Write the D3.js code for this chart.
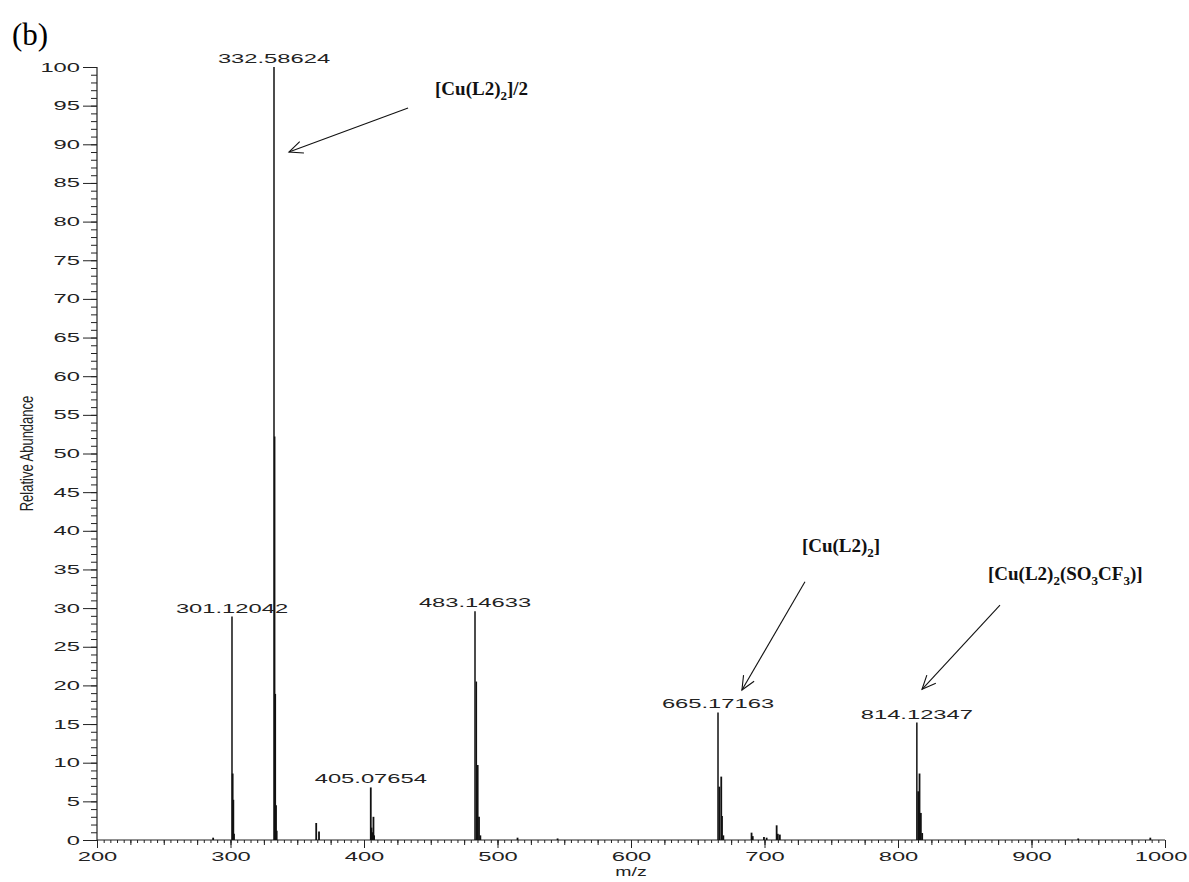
<!DOCTYPE html>
<html>
<head>
<meta charset="utf-8">
<script src="https://cdn.jsdelivr.net/npm/d3@7"></script>
<style>
  body { margin: 0; background: #fff; }
  svg { display: block; }
  .tick text { fill: #222; }
</style>
</head>
<body>
<div id="chart"></div>
<script>
const width = 1189;
const height = 882;

// stick spectrum: m/z and relative abundance
const peakMz = [
  287.0,
  301.12042, 301.62, 302.12, 302.62,
  332.58624, 333.09, 333.59, 334.09, 334.59,
  364.2, 366.3,
  405.07654, 405.58, 406.08, 407.08, 407.58,
  483.14633, 484.15, 485.15, 486.15, 487.15,
  515.0, 545.0,
  665.17163, 666.17, 667.6, 668.17, 669.17,
  690.3, 691.2, 699.6, 701.6, 709.1, 710.0, 711.5,
  814.12347, 815.12, 816.12, 817.12, 818.12,
  935.0, 989.0
];
const peakAbund = [
  0.3,
  28.9, 8.6, 5.2, 0.8,
  100, 52.2, 18.9, 4.5, 1.2,
  2.2, 1.1,
  6.8, 1.6, 1.0, 3.0, 0.6,
  29.6, 20.5, 9.7, 3.0, 0.6,
  0.3, 0.2,
  16.5, 6.9, 8.2, 3.1, 0.6,
  0.95, 0.5, 0.4, 0.3, 1.9, 0.8, 0.7,
  15.2, 6.3, 8.6, 3.5, 0.9,
  0.2, 0.3
];

// labelled peaks
const labelMz = [301.12042, 332.58624, 405.07654, 483.14633, 665.17163, 814.12347];
const labelText = ["301.12042", "332.58624", "405.07654", "483.14633", "665.17163", "814.12347"];

const xTicks = [200, 300, 400, 500, 600, 700, 800, 900, 1000];
const yTicks = d3.range(0, 101, 5);

// ion annotations (anchored in m/z, abundance units)
const annoText = [
  [["[Cu(L2)", false], ["2", true], ["]/2", false]],
  [["[Cu(L2)", false], ["2", true], ["]", false]],
  [["[Cu(L2)", false], ["2", true], ["(SO", false], ["3", true], ["CF", false], ["3", true], [")]", false]]
];
const annoTextPos = [[453.2, 96.4], [728.0, 37.3], [867.4, 33.6]];
const arrowFrom = [[433.0, 94.7], [730.3, 33.4], [876.4, 30.4]];
const arrowTo = [[343.8, 89.0], [683.1, 19.4], [818.0, 19.5]];

const margin = { left: 97, right: 24, top: 67, bottom: 42 };
const sx = 1.9; // the instrument fonts are stretched sideways

const svg = d3.select("#chart")
    .append("svg")
    .attr("width", width)
    .attr("height", height);

const x = d3.scaleLinear()
    .domain([200, 1000])
    .range([margin.left, width - margin.right]);

const y = d3.scaleLinear()
    .domain([0, 100])
    .range([height - margin.bottom, margin.top]);

const sans = "'Liberation Sans', Arial, Helvetica, sans-serif";
const serif = "'Liberation Serif', 'Times New Roman', serif";

// panel letter
svg.append("text")
    .attr("x", 12)
    .attr("y", 45)
    .attr("font-family", serif)
    .attr("font-size", 31)
    .text("(b)");

// ---- axes ----
const styleAxis = g => {
    g.select(".domain").remove();
    g.selectAll(".tick line").attr("stroke", "#222").attr("stroke-width", 1);
};

// y minor ticks every 1
svg.append("g")
    .attr("transform", `translate(${margin.left},0)`)
    .call(d3.axisLeft(y).tickValues(d3.range(0, 101, 1)).tickSize(6).tickFormat(""))
    .call(styleAxis);

// y major
const yAxis = svg.append("g")
    .attr("transform", `translate(${margin.left},0)`)
    .call(d3.axisLeft(y).tickValues(yTicks).tickSize(14).tickPadding(3))
    .call(styleAxis);
yAxis.selectAll(".tick text")
    .attr("font-family", sans)
    .attr("font-size", 12.5)
    .attr("x", -17 / sx)
    .attr("transform", `scale(${sx},1)`);

// x minor ticks
svg.append("g")
    .attr("transform", `translate(0,${y(0)})`)
    .call(d3.axisBottom(x).tickValues(d3.range(200, 1001, 5)).tickSize(3).tickFormat(""))
    .call(styleAxis);
svg.append("g")
    .attr("transform", `translate(0,${y(0)})`)
    .call(d3.axisBottom(x).tickValues(d3.range(200, 1001, 25)).tickSize(5).tickFormat(""))
    .call(styleAxis);

const xAxis = svg.append("g")
    .attr("transform", `translate(0,${y(0)})`)
    .call(d3.axisBottom(x).tickValues(xTicks).tickSize(8).tickPadding(4).tickFormat(d3.format("d")))
    .call(styleAxis);
xAxis.selectAll(".tick text")
    .attr("font-family", sans)
    .attr("font-size", 12.5)
    .attr("transform", `scale(${sx},1)`);
// keep the last label inside the page
xAxis.selectAll(".tick text")
    .filter(d => d === 1000)
    .attr("text-anchor", "end")
    .attr("x", (width - 2 - x(1000)) / sx);

// axis lines
svg.append("line")
    .attr("x1", x(200)).attr("x2", x(200))
    .attr("y1", y(0)).attr("y2", y(100))
    .attr("stroke", "#222").attr("stroke-width", 1.2);
svg.append("line")
    .attr("x1", x(200)).attr("x2", x(1000))
    .attr("y1", y(0)).attr("y2", y(0))
    .attr("stroke", "#222").attr("stroke-width", 1.2);

// axis titles
svg.append("text")
    .attr("transform", `translate(${x(600)},${height - 6}) scale(1.5,1)`)
    .attr("text-anchor", "middle")
    .attr("font-family", sans)
    .attr("font-size", 13)
    .attr("fill", "#222")
    .text("m/z");

svg.append("text")
    .attr("transform", `translate(33,${y(50)}) rotate(-90) scale(1,1.4)`)
    .attr("text-anchor", "middle")
    .attr("font-family", sans)
    .attr("font-size", 13)
    .attr("fill", "#222")
    .text("Relative Abundance");

// ---- peaks ----
const peaks = peakMz.map((m, i) => ({ mz: m, ab: peakAbund[i] }));

svg.append("g")
    .selectAll("line")
    .data(peaks)
    .join("line")
    .attr("x1", d => x(d.mz))
    .attr("x2", d => x(d.mz))
    .attr("y1", y(0))
    .attr("y2", d => y(d.ab))
    .attr("stroke", "#111")
    .attr("stroke-width", d => d.ab > 10 ? 1.5 : 1.8);

// peak labels
const labels = labelMz.map((m, i) => ({
    mz: m,
    text: labelText[i],
    ab: peakAbund[peakMz.indexOf(m)]
}));

svg.append("g")
    .selectAll("text")
    .data(labels)
    .join("text")
    .attr("transform", d => `translate(${x(d.mz)},${y(d.ab) - 4}) scale(${sx},1)`)
    .attr("text-anchor", "middle")
    .attr("font-family", sans)
    .attr("font-size", 12.5)
    .attr("fill", "#222")
    .text(d => d.text);

// ---- annotations ----
annoText.forEach((parts, i) => {
    const t = svg.append("text")
        .attr("x", x(annoTextPos[i][0]))
        .attr("y", y(annoTextPos[i][1]))
        .attr("font-family", serif)
        .attr("font-weight", "bold")
        .attr("font-size", 19)
        .attr("fill", "#111");
    let shifted = false;
    parts.forEach(([s, sub]) => {
        const ts = t.append("tspan").text(s);
        if (sub && !shifted) { ts.attr("dy", 5).attr("font-size", 13); shifted = true; }
        else if (sub) { ts.attr("font-size", 13); }
        else if (shifted) { ts.attr("dy", -5); shifted = false; }
    });
});

const arrowG = svg.append("g")
    .attr("stroke", "#111")
    .attr("stroke-width", 1.1)
    .attr("fill", "none");

arrowFrom.forEach((f, i) => {
    const x1 = x(f[0]), y1 = y(f[1]);
    const x2 = x(arrowTo[i][0]), y2 = y(arrowTo[i][1]);
    arrowG.append("line")
        .attr("x1", x1).attr("y1", y1)
        .attr("x2", x2).attr("y2", y2);
    const ang = Math.atan2(y1 - y2, x1 - x2);
    const len = 15, spread = 0.42;
    const head = [ang - spread, ang + spread].map(a => [x2 + len * Math.cos(a), y2 + len * Math.sin(a)]);
    arrowG.append("path")
        .attr("d", `M${head[0][0]},${head[0][1]}L${x2},${y2}L${head[1][0]},${head[1][1]}`);
});
</script>
</body>
</html>
